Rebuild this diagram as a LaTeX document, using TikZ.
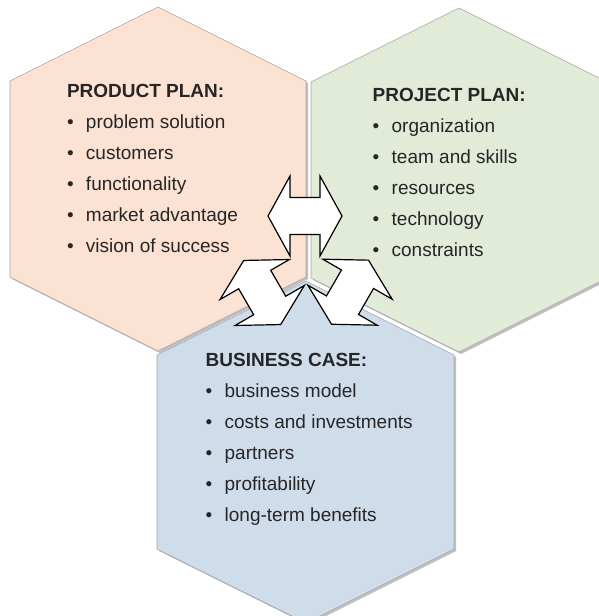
\documentclass[tikz,border=0pt]{standalone}
\usepackage{fontspec}
\setmainfont{Liberation Sans}
\usetikzlibrary{shadows}

\definecolor{prodfill}{HTML}{FBE2D2}
\definecolor{projfill}{HTML}{E1EBD8}
\definecolor{busfill}{HTML}{CFDDEA}
\definecolor{txtgray}{HTML}{262626}

\newcommand{\bul}{\makebox[19pt][l]{\textbullet}}

\tikzset{
  hexa/.style={draw=gray!70, line width=.6pt,
    drop shadow={shadow xshift=2pt, shadow yshift=-2pt, fill=gray!55, opacity=.9}},
  head/.style={anchor=base west, inner sep=0pt, text=txtgray,
    font=\fontsize{19}{23}\selectfont\bfseries},
  item/.style={anchor=base west, inner sep=0pt, text=txtgray,
    font=\fontsize{19}{23}\selectfont},
  dblarrow/.pic={
    \draw[fill=white, line width=1.2pt, line join=miter]
      (-37,0) -- (-15,40) -- (-15,18.5) -- (15,18.5) -- (15,40) -- (37,0)
      -- (15,-40) -- (15,-18.5) -- (-15,-18.5) -- (-15,-40) -- cycle;
  }
}

\begin{document}
\begin{tikzpicture}[x=1pt, y=-1pt]
             \useasboundingbox (0,0) rectangle (599,616);
             \clip (0,0) rectangle (599,616);

             % the three hexagons
             \fill[white] (0,0) rectangle (599,616);
             \path[hexa, fill=prodfill] (158,7) -- (306,81) -- (306,277) -- (158,351) -- (10,277) -- (10,81) -- cycle;
             \path[hexa, fill=projfill] (459,8) -- (607,82) -- (607,278) -- (459,352) -- (311,278) -- (311,82) -- cycle;
             \path[hexa, fill=busfill] (306,281) -- (454,355) -- (454,549) -- (306,623) -- (157,549) -- (157,355) -- cycle;

             % product plan
             \node[head] (prod) at (66.8, 97.7) {PRODUCT PLAN:};
             \foreach \t [count=\i] in {problem solution, customers, functionality, market advantage, vision of success}
               \node[item] (prod-\i) at (66.8, {97.7+31*\i}) {\bul\t};

             % project plan
             \node[head] (proj) at (372.5, 101) {PROJECT PLAN:};
             \foreach \t [count=\i] in {organization, team and skills, resources, technology, constraints}
               \node[item] (proj-\i) at (372.5, {101+31*\i}) {\bul\t};

             % business case
             \node[head] (bus) at (205.5, 366) {BUSINESS CASE:};
             \foreach \t [count=\i] in {business model, costs and investments, partners, profitability, long-term benefits}
               \node[item] (bus-\i) at (205.5, {366+31*\i}) {\bul\t};

             % arrows between the plans
             \pic at (305, 216) {dblarrow};
             \pic[rotate=-60] at (262.2, 292.5) {dblarrow};
             \pic[rotate=60] at (350, 292.2) {dblarrow};
             \end{tikzpicture}
\end{document}
